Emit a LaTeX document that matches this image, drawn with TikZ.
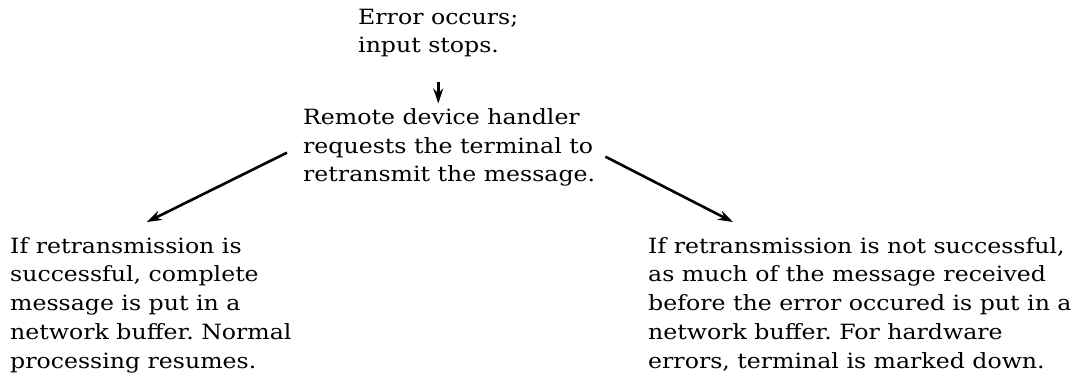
\documentclass[tikz,border=0pt]{standalone}
\usepackage{fontspec}
\setmainfont{DejaVu Serif}[FakeStretch=1.125]
\usetikzlibrary{arrows.meta}
\frenchspacing

\begin{document}
\begin{tikzpicture}[
    x=1pt, y=-1pt,
    every node/.style={font=\fontsize{21}{28.7}\selectfont},
    msgtext/.style={align=left, inner sep=0pt, anchor=base west},
    arrow/.style={-{Stealth[length=15pt,width=10pt]}, line width=2.6pt}
]
\useasboundingbox (0,0) rectangle (1076,385);

\node (error) [msgtext] at (358,53) {Error occurs;\\input stops.};
\node (remote) [msgtext] at (303,182) {Remote device handler\\requests the terminal to\\retransmit the message.};

\node (success) [msgtext] at (10,368) {If retransmission is\\successful, complete\\message is put in a\\network buffer. Normal\\processing resumes.};
\node (failure) [msgtext] at (648,368) {If retransmission is not successful,\\as much of the message received\\before the error occured is put in a\\network buffer. For hardware\\errors, terminal is marked down.};

\draw [arrow] (error.south) ++(0,24) -- ([yshift=5pt]error.south |- remote.north);
\draw [arrow] ([xshift=-16pt,yshift=-5pt]remote.west) -- ([xshift=-4pt,yshift=15pt]success.north);
\draw [arrow] ([xshift=10pt,yshift=-9pt]remote.east) -- ([xshift=85pt,yshift=15pt]failure.north west);

\end{tikzpicture}
\end{document}
